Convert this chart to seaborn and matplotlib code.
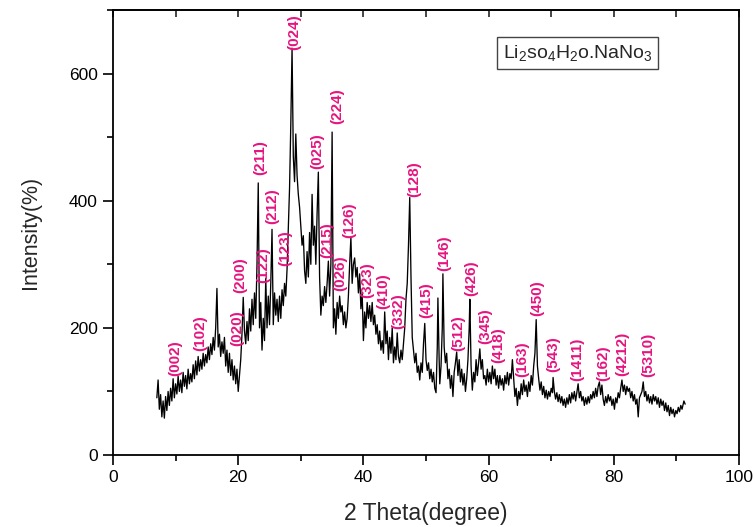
import numpy as np
import pandas as pd
import seaborn as sns
import matplotlib
matplotlib.use('Agg')
import matplotlib.pyplot as plt
from matplotlib.ticker import MultipleLocator

# XRD pattern (2 theta in degree, intensity)
two_theta = [
    7.0, 7.2, 7.4, 7.6, 7.8, 8.0, 8.2, 8.4, 8.6, 8.8, 9.0, 9.2, 9.4, 9.6, 9.8,
    10.0, 10.2, 10.4, 10.6, 10.8, 11.0, 11.2, 11.4, 11.6, 11.8, 12.0, 12.2, 12.4,
    12.6, 12.8, 13.0, 13.2, 13.4, 13.6, 13.8, 14.0, 14.2, 14.4, 14.6, 14.8, 15.0,
    15.2, 15.4, 15.6, 15.8, 16.0, 16.2, 16.4, 16.6, 16.8, 17.0, 17.2, 17.4, 17.6,
    17.8, 18.0, 18.2, 18.4, 18.6, 18.8, 19.0, 19.2, 19.4, 19.6, 19.8, 20.0, 20.2,
    20.4, 20.6, 20.8, 21.0, 21.2, 21.4, 21.6, 21.8, 22.0, 22.2, 22.4, 22.6, 22.8,
    23.0, 23.2, 23.4, 23.6, 23.8, 24.0, 24.2, 24.4, 24.6, 24.8, 25.0, 25.2, 25.4,
    25.6, 25.8, 26.0, 26.2, 26.4, 26.6, 26.8, 27.0, 27.2, 27.4, 27.6, 27.8, 28.0,
    28.2, 28.4, 28.6, 28.8, 29.0, 29.2, 29.4, 29.6, 29.8, 30.0, 30.2, 30.4, 30.6,
    30.8, 31.0, 31.2, 31.4, 31.6, 31.8, 32.0, 32.2, 32.4, 32.6, 32.8, 33.0, 33.2,
    33.4, 33.6, 33.8, 34.0, 34.2, 34.4, 34.6, 34.8, 35.0, 35.2, 35.4, 35.6, 35.8,
    36.0, 36.2, 36.4, 36.6, 36.8, 37.0, 37.2, 37.4, 37.6, 37.8, 38.0, 38.2, 38.4,
    38.6, 38.8, 39.0, 39.2, 39.4, 39.6, 39.8, 40.0, 40.2, 40.4, 40.6, 40.8, 41.0,
    41.2, 41.4, 41.6, 41.8, 42.0, 42.2, 42.4, 42.6, 42.8, 43.0, 43.2, 43.4, 43.6,
    43.8, 44.0, 44.2, 44.4, 44.6, 44.8, 45.0, 45.2, 45.4, 45.6, 45.8, 46.0, 46.2,
    46.4, 46.6, 46.8, 47.0, 47.2, 47.4, 47.6, 47.8, 48.0, 48.2, 48.4, 48.6, 48.8,
    49.0, 49.2, 49.4, 49.6, 49.8, 50.0, 50.2, 50.4, 50.6, 50.8, 51.0, 51.2, 51.4,
    51.6, 51.8, 51.9, 52.1, 52.2, 52.4, 52.6, 52.7, 52.9, 53.1, 53.3, 53.5, 53.7,
    53.9, 54.1, 54.3, 54.5, 54.7, 54.9, 55.1, 55.3, 55.5, 55.7, 55.9, 56.1, 56.3,
    56.5, 56.7, 56.9, 57.0, 57.2, 57.4, 57.6, 57.8, 58.0, 58.2, 58.4, 58.6, 58.8,
    59.0, 59.2, 59.4, 59.6, 59.8, 60.0, 60.2, 60.4, 60.6, 60.8, 61.0, 61.2, 61.4,
    61.6, 61.8, 62.0, 62.2, 62.4, 62.6, 62.8, 63.0, 63.2, 63.4, 63.6, 63.8, 64.0,
    64.2, 64.4, 64.6, 64.8, 65.0, 65.2, 65.4, 65.6, 65.8, 66.0, 66.2, 66.4, 66.6,
    66.8, 67.0, 67.2, 67.4, 67.6, 67.8, 68.0, 68.2, 68.4, 68.6, 68.8, 69.0, 69.2,
    69.4, 69.6, 69.8, 70.0, 70.2, 70.3, 70.5, 70.7, 70.9, 71.1, 71.3, 71.5, 71.7,
    71.9, 72.1, 72.3, 72.5, 72.7, 72.9, 73.1, 73.3, 73.5, 73.7, 73.9, 74.1, 74.3,
    74.5, 74.7, 74.9, 75.1, 75.3, 75.5, 75.7, 75.9, 76.1, 76.3, 76.5, 76.7, 76.9,
    77.1, 77.3, 77.5, 77.7, 77.9, 78.1, 78.3, 78.5, 78.7, 78.9, 79.1, 79.3, 79.5,
    79.7, 79.9, 80.1, 80.3, 80.5, 80.7, 80.9, 81.1, 81.3, 81.5, 81.7, 81.9, 82.1,
    82.3, 82.5, 82.7, 82.9, 83.1, 83.3, 83.5, 83.7, 83.9, 84.1, 84.3, 84.5, 84.7,
    84.9, 85.1, 85.3, 85.5, 85.7, 85.9, 86.1, 86.3, 86.5, 86.7, 86.9, 87.1, 87.3,
    87.5, 87.7, 87.9, 88.1, 88.3, 88.5, 88.7, 88.9, 89.1, 89.3, 89.5, 89.7, 89.9,
    90.1, 90.3, 90.5, 90.7, 90.9, 91.2, 91.4,
]
intensity = [
    90, 118, 72, 95, 60, 85, 58, 92, 70, 100, 78, 105, 85, 120, 90,
    112, 96, 124, 100, 118, 98, 130, 108, 125, 104, 135, 112, 128,
    115, 142, 120, 148, 126, 155, 132, 150, 135, 160, 140, 158, 145,
    170, 150, 175, 158, 185, 165, 200, 262, 170, 190, 155, 178, 160,
    185, 140, 165, 130, 160, 125, 150, 118, 140, 112, 135, 100, 125,
    150, 190, 248, 195, 175, 210, 180, 230, 195, 245, 205, 255, 215,
    300, 428, 200, 240, 165, 215, 180, 278, 200, 250, 205, 270, 355,
    205, 255, 220, 245, 210, 250, 215, 260, 235, 270, 250, 292, 355,
    420, 520, 640, 470, 430, 505, 440, 410, 390, 360, 330, 345, 290,
    270, 320, 280, 350, 300, 410, 330, 360, 300, 380, 445, 280, 220,
    250, 235, 265, 240, 270, 305, 250, 300, 508, 200, 230, 190, 240,
    215, 250, 225, 235, 205, 225, 200, 215, 250, 300, 342, 270, 300,
    310, 280, 295, 255, 285, 230, 255, 180, 225, 200, 240, 215, 235,
    210, 240, 205, 220, 190, 205, 175, 195, 165, 180, 160, 225, 175,
    195, 150, 185, 160, 200, 145, 170, 150, 192, 155, 145, 165, 150,
    175, 200, 245, 270, 330, 405, 280, 185, 165, 145, 160, 130, 140,
    118, 145, 130, 175, 207, 150, 133, 145, 120, 135, 115, 130, 105,
    98, 170, 247, 150, 112, 140, 200, 285, 170, 145, 160, 120, 135,
    105, 125, 92, 130, 145, 162, 125, 150, 115, 135, 110, 128, 100,
    120, 150, 200, 245, 140, 102, 130, 115, 150, 125, 145, 167, 135,
    150, 120, 125, 110, 135, 115, 130, 112, 140, 120, 135, 110, 125,
    105, 125, 110, 120, 102, 125, 112, 130, 110, 128, 120, 150, 120,
    92, 105, 78, 100, 88, 112, 95, 118, 100, 110, 92, 115, 100,
    125, 110, 140, 160, 213, 140, 120, 102, 115, 95, 108, 90, 102,
    88, 100, 92, 105, 98, 122, 100, 88, 98, 84, 95, 82, 92,
    78, 88, 75, 90, 80, 95, 82, 98, 88, 100, 85, 98, 112,
    90, 100, 85, 92, 78, 90, 80, 92, 82, 95, 88, 100, 90,
    105, 92, 108, 115, 95, 110, 88, 78, 92, 82, 95, 85, 92,
    78, 88, 72, 90, 82, 98, 90, 105, 118, 100, 110, 95, 108,
    100, 105, 90, 100, 85, 95, 80, 88, 60, 90, 95, 100, 115,
    92, 100, 85, 95, 82, 92, 80, 95, 85, 92, 80, 90, 75,
    88, 78, 85, 70, 82, 68, 78, 62, 75, 65, 72, 60, 70,
    65, 75, 68, 78, 72, 85, 80,
]

# Miller index labels, the 2 theta they sit at and the intensity of their lower end
hkl_labels = ['(002)', '(102)', '(020)', '(200)', '(211)', '(122)', '(212)', '(123)',
              '(024)', '(025)', '(215)', '(224)', '(026)', '(126)', '(323)', '(410)',
              '(332)', '(128)', '(415)', '(146)', '(512)', '(426)', '(345)', '(418)',
              '(163)', '(450)', '(543)', '(1411)', '(162)', '(4212)', '(5310)']
hkl_theta = [9.9, 13.9, 19.8, 20.3, 23.5, 24.0, 25.5, 27.5,
             29.0, 32.7, 34.2, 35.8, 36.3, 37.7, 40.6, 43.2,
             45.5, 48.2, 50.1, 52.9, 55.1, 57.3, 59.4, 61.5,
             65.3, 67.7, 70.3, 74.1, 78.3, 81.3, 85.5]
hkl_level = [125, 164, 172, 255, 441, 270, 364, 297,
             637, 450, 310, 520, 258, 341, 247, 230,
             199, 406, 216, 290, 164, 250, 175, 144,
             122, 219, 130, 117, 117, 125, 122]

df = pd.DataFrame({'2 Theta': two_theta, 'Intensity': intensity})

sns.set_style('ticks')
plt.rcParams['font.family'] = ['Liberation Sans', 'DejaVu Sans']
plt.rcParams['mathtext.fontset'] = 'custom'
plt.rcParams['mathtext.rm'] = 'Liberation Sans'
plt.rcParams['mathtext.it'] = 'Liberation Sans'

fig = plt.figure(figsize=(7.54, 5.27), dpi=100)
ax = fig.add_axes([0.1499, 0.1366, 0.8302, 0.8444])

sns.lineplot(data=df, x='2 Theta', y='Intensity', ax=ax, color='black',
             linewidth=0.95, estimator=None, sort=False)

pink = '#E5157E'
for lab, th, lv in zip(hkl_labels, hkl_theta, hkl_level):
    ax.text(th, lv, lab, rotation=90, ha='center', va='bottom',
            color=pink, fontsize=11, fontweight='bold')

ax.set_xlim(0, 100)
ax.set_ylim(0, 700)
ax.xaxis.set_major_locator(MultipleLocator(20))
ax.xaxis.set_minor_locator(MultipleLocator(10))
ax.yaxis.set_major_locator(MultipleLocator(200))
ax.yaxis.set_minor_locator(MultipleLocator(100))

for side in ['top', 'right', 'left', 'bottom']:
    ax.spines[side].set_visible(True)
    ax.spines[side].set_linewidth(1.3)
    ax.spines[side].set_color('black')

ax.tick_params(which='both', direction='out', width=1.2, labelsize=12.5,
               colors='black', pad=4)
ax.tick_params(which='major', length=7)
ax.tick_params(which='minor', length=4)

# mirrored ticks on the top axis, pointing into the plot
top = ax.secondary_xaxis('top')
top.xaxis.set_major_locator(MultipleLocator(20))
top.xaxis.set_minor_locator(MultipleLocator(10))
top.tick_params(which='both', direction='in', width=1.2, labeltop=False)
top.tick_params(which='major', length=5)
top.tick_params(which='minor', length=5)
top.spines['top'].set_linewidth(1.3)

ax.set_xlabel('2 Theta(degree)', fontsize=16.5, labelpad=12)
ax.set_ylabel('Intensity(%)', fontsize=15.5, labelpad=20)

ax.text(0.742, 0.904, r'Li$_2$so$_4$H$_2$o.NaNo$_3$', transform=ax.transAxes,
        ha='center', va='center', fontsize=14,
        bbox=dict(boxstyle='square,pad=0.3', facecolor='white',
                  edgecolor='#444444', linewidth=1.0))

fig.savefig('out.png', dpi=100)
